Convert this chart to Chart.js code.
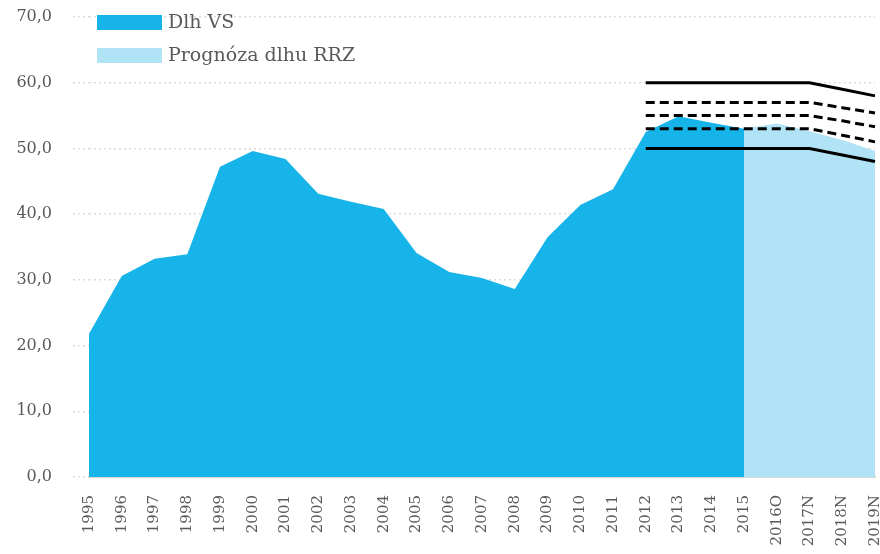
<!DOCTYPE html>
<html>
<head>
<meta charset="utf-8">
<script src="https://cdn.jsdelivr.net/npm/chart.js@4"></script>
<style>
  body { margin: 0; background: #fff; }
  #wrap { width: 880px; height: 554px; }
</style>
</head>
<body>
<div id="wrap"><canvas id="graph"></canvas></div>
<script>
const years = ['1995', '1996', '1997', '1998', '1999', '2000', '2001', '2002', '2003', '2004',
  '2005', '2006', '2007', '2008', '2009', '2010', '2011', '2012', '2013', '2014',
  '2015', '2016O', '2017N', '2018N', '2019N'];

const dlhVS = [21.8, 30.6, 33.2, 33.9, 47.2, 49.6, 48.4, 43.1, 41.9, 40.8,
  34.1, 31.2, 30.3, 28.6, 36.5, 41.4, 43.8, 52.5, 54.9, 53.9,
  53.0, null, null, null, null];

const prognoza = [null, null, null, null, null, null, null, null, null, null,
  null, null, null, null, null, null, null, null, null, null,
  53.0, 53.8, 52.6, 51.3, 49.6];

// hranice (cierne ciary) od 2012
const pad = new Array(17).fill(null);
const limit60 = pad.concat([60, 60, 60, 60, 60, 60, 59, 58]);
const limit57 = pad.concat([57, 57, 57, 57, 57, 57, 56.2, 55.4]);
const limit55 = pad.concat([55, 55, 55, 55, 55, 55, 54.2, 53.3]);
const limit53 = pad.concat([53, 53, 53, 53, 53, 53, 52, 51]);
const limit50 = pad.concat([50, 50, 50, 50, 50, 50, 49, 48]);

const yTicks = [0, 10, 20, 30, 40, 50, 60, 70];

const txtColor = '#595959';
const fontFam = '"DejaVu Serif", "Liberation Serif", serif';

function limitLine(data, dashed) {
  return {
    label: '',
    data: data,
    borderColor: '#000',
    borderWidth: 3,
    borderDash: dashed ? [9, 5] : [],
    pointRadius: 0,
    fill: false,
    tension: 0,
    order: 0
  };
}

const legendPlugin = {
  id: 'ownLegend',
  afterDraw(chart) {
    const ctx = chart.ctx;
    const left = chart.chartArea.left + 8;
    const items = [
      { text: 'Dlh VS', color: '#17b4e9', y: 15 },
      { text: 'Prognóza dlhu RRZ', color: '#b0e3f5', y: 48 }
    ];
    ctx.save();
    ctx.font = '19px ' + fontFam;
    ctx.textBaseline = 'middle';
    items.forEach(it => {
      ctx.fillStyle = it.color;
      ctx.fillRect(left, it.y, 65, 15);
      ctx.fillStyle = txtColor;
      ctx.fillText(it.text, left + 71, it.y + 8);
    });
    ctx.restore();
  }
};

const ctx = document.getElementById('graph').getContext('2d');
new Chart(ctx, {
  type: 'line',
  data: {
    labels: years,
    datasets: [
      limitLine(limit60, false),
      limitLine(limit57, true),
      limitLine(limit55, true),
      limitLine(limit53, true),
      limitLine(limit50, false),
      {
        label: 'Dlh VS',
        data: dlhVS,
        backgroundColor: '#17b4e9',
        borderWidth: 0,
        pointRadius: 0,
        fill: 'origin',
        tension: 0,
        order: 1
      },
      {
        label: 'Prognóza dlhu RRZ',
        data: prognoza,
        backgroundColor: '#b0e3f5',
        borderWidth: 0,
        pointRadius: 0,
        fill: 'origin',
        tension: 0,
        order: 2
      }
    ]
  },
  options: {
    responsive: true,
    maintainAspectRatio: false,
    animation: false,
    layout: { padding: { top: 17, right: 5, left: 0, bottom: 0 } },
    plugins: {
      legend: { display: false },
      tooltip: { enabled: false }
    },
    scales: {
      x: {
        grid: { display: false },
        border: { display: true, color: '#d9d9d9', width: 2 },
        ticks: {
          autoSkip: false,
          maxRotation: 90,
          minRotation: 90,
          padding: 10,
          color: txtColor,
          font: { family: fontFam, size: 15 }
        },
        afterFit(scale) {
          scale.height = 77;
          scale.paddingLeft = 0;
          scale.paddingRight = 0;
        }
      },
      y: {
        min: 0,
        max: 70,
        afterBuildTicks(scale) { scale.ticks = yTicks.map(v => ({ value: v })); },
        grid: {
          color: '#dcdcdc',
          lineWidth: 1.5,
          tickLength: 16,
          tickBorderDash: [2, 3]
        },
        border: { display: false, dash: [2, 3] },
        ticks: {
          padding: 21,
          color: txtColor,
          font: { family: fontFam, size: 16 },
          callback: v => v.toFixed(1).replace('.', ',')
        },
        afterFit(scale) {
          scale.width = 89;
          scale.paddingTop = 0;
          scale.paddingBottom = 0;
        }
      }
    }
  },
  plugins: [legendPlugin]
});
</script>
</body>
</html>
